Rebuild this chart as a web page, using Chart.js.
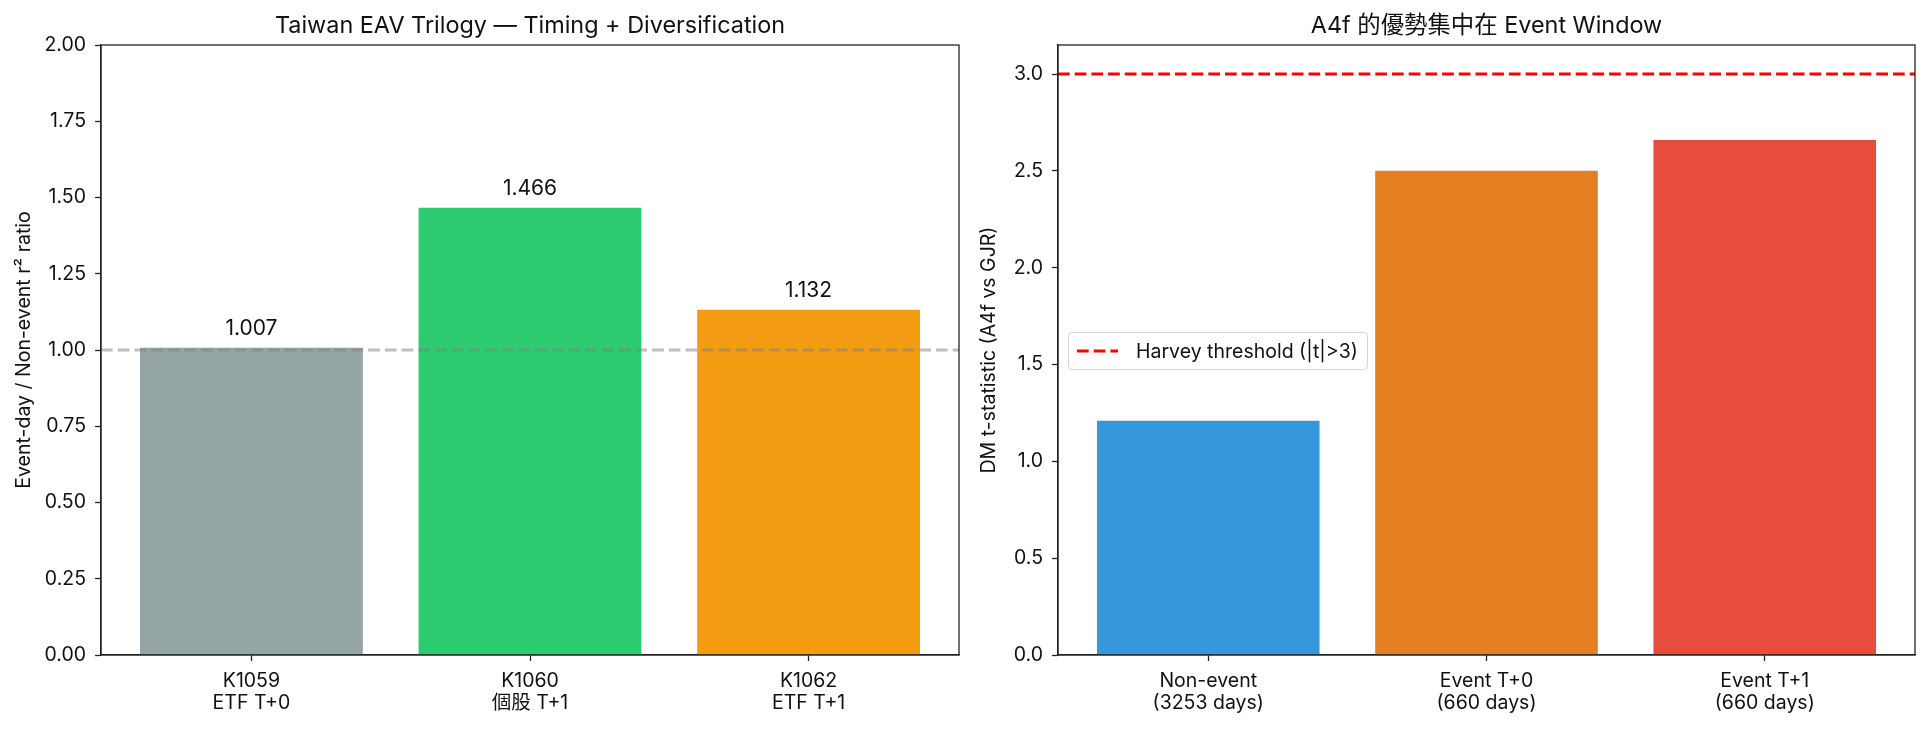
<!DOCTYPE html>
<html><head><meta charset="utf-8">
<script src="https://cdn.jsdelivr.net/npm/chart.js@4.4.1/dist/chart.umd.min.js"></script>
<style>
body{margin:0;background:#fff;width:1931px;height:730px;overflow:hidden;position:relative;font-family:Inter,"Noto Sans CJK TC",sans-serif;}
#c1{position:absolute;left:0;top:0;}
#c2{position:absolute;left:965px;top:0;}
#legend{position:absolute;left:1068px;top:332px;height:38px;border:1.3px solid #d6d6d6;border-radius:4px;background:rgba(255,255,255,0.85);display:flex;align-items:center;padding:0 9px 0 8px;font-size:19.5px;color:#111;box-sizing:border-box;white-space:nowrap}
</style></head><body>
<canvas id="c1" width="965" height="730"></canvas>
<canvas id="c2" width="966" height="730"></canvas>
<div id="legend"><svg width="41" height="6" style="margin-right:18px"><line x1="0" y1="3" x2="41" y2="3" stroke="#ff0000" stroke-width="3" stroke-dasharray="11.7 5"/></svg><span id="legendText"></span></div>
<script>
// ---------- data ----------
const leftTitle = 'Taiwan EAV Trilogy — Timing + Diversification';
const leftYLabel = 'Event-day / Non-event r² ratio';
const leftCategories = [['K1059','ETF T+0'],['K1060','個股 T+1'],['K1062','ETF T+1']];
const leftValues = [1.007, 1.466, 1.132];
const leftColors = ['#95a5a6','#2ecc71','#f39c12'];
const leftBaseline = 1.0;
const leftYMin = 0, leftYMax = 2.0, leftYStep = 0.25;

const rightTitle = 'A4f 的優勢集中在 Event Window';
const rightYLabel = 'DM t-statistic (A4f vs GJR)';
const rightCategories = [['Non-event','(3253 days)'],['Event T+0','(660 days)'],['Event T+1','(660 days)']];
const rightValues = [1.21, 2.50, 2.66];
const rightColors = ['#3498db','#e67e22','#e74c3c'];
const harveyThreshold = 3.0;
const harveyLabel = 'Harvey threshold (|t|>3)';
const rightYMin = 0, rightYMax = 3.15, rightYStep = 0.5;

const xMin = -0.54, xMax = 2.54;
// --------------------------

document.getElementById('legendText').textContent = harveyLabel;

const FONT = 'Inter,"Noto Sans CJK TC",sans-serif';
const TXT = '#111';
const AX = '#222';
const FS = 19.5;

const framePlugin = {
  id: 'frame',
  afterDatasetsDraw(chart) {
    const {ctx, chartArea: a} = chart;
    ctx.save();
    ctx.strokeStyle = AX; ctx.lineWidth = 1.3;
    ctx.strokeRect(a.left, a.top, a.right - a.left, a.bottom - a.top);
    ctx.restore();
  }
};

const titlePlugin = {
  id: 'areaTitle',
  afterDraw(chart, args, opts) {
    const {ctx, chartArea: a} = chart;
    ctx.save();
    ctx.font = '23.4px ' + FONT;
    ctx.fillStyle = TXT;
    ctx.textAlign = 'center';
    ctx.textBaseline = 'alphabetic';
    ctx.fillText(opts.text, (a.left + a.right) / 2, a.top - 12);
    ctx.restore();
  }
};

const valueLabelPlugin = {
  id: 'valueLabels',
  afterDatasetsDraw(chart, args, opts) {
    if (!opts.show) return;
    const {ctx} = chart;
    chart.data.datasets.forEach((ds, di) => {
      if (ds.type === 'line') return;
      const meta = chart.getDatasetMeta(di);
      meta.data.forEach((el, i) => {
        ctx.save();
        ctx.font = '21px ' + FONT;
        ctx.fillStyle = TXT;
        ctx.textAlign = 'center';
        ctx.textBaseline = 'alphabetic';
        ctx.fillText(ds.data[i].y.toFixed(3), el.x, el.y - 13);
        ctx.restore();
      });
    });
  }
};

function makeChart(id, opts) {
  const {title, yLabel, cats, vals, colors, refY, refColor, refWidth, yMin, yMax, yStep, decimals, padRight, yWidth, yTitlePad, labels} = opts;
  return new Chart(document.getElementById(id), {
    type: 'bar',
    data: {
      datasets: [
        {
          type: 'line',
          order: 0,
          data: [{x: xMin, y: refY}, {x: xMax, y: refY}],
          borderColor: refColor,
          borderWidth: refWidth,
          borderDash: [11.7, 5],
          pointRadius: 0,
          fill: false
        },
        {
          type: 'bar',
          order: 1,
          data: vals.map((v, i) => ({x: i, y: v})),
          backgroundColor: colors,
          borderWidth: 0,
          barPercentage: 1.0,
          categoryPercentage: 0.8
        }
      ]
    },
    options: {
      responsive: false,
      animation: false,
      layout: {padding: {left: 0, right: padRight, top: 45, bottom: 0}},
      plugins: {
        legend: {display: false},
        tooltip: {enabled: false},
        title: {display: false},
        areaTitle: {text: title},
        valueLabels: {show: labels}
      },
      scales: {
        x: {
          type: 'linear', min: xMin, max: xMax, offset: false,
          afterBuildTicks(s) { s.ticks = cats.map((c, i) => ({value: i})); },
          afterFit(s) { s.height = 75; },
          ticks: {
            callback: (v) => cats[v],
            color: TXT, font: {family: FONT, size: FS, lineHeight: 1.15},
            padding: 9, maxRotation: 0, autoSkip: false
          },
          grid: {offset: false, drawOnChartArea: false, drawTicks: true, tickLength: 6, tickWidth: 1.3, tickColor: AX},
          border: {display: true, color: AX, width: 1.3}
        },
        y: {
          type: 'linear', min: yMin, max: yMax,
          afterBuildTicks(s) {
            s.ticks = s.ticks.filter(t => Math.abs(t.value / yStep - Math.round(t.value / yStep)) < 1e-6);
          },
          afterFit(s) { s.width = yWidth; },
          ticks: {
            stepSize: yStep,
            callback: (v) => Number(v).toFixed(decimals),
            color: TXT, font: {family: FONT, size: FS}, padding: 9
          },
          title: {
            display: true, text: yLabel, color: TXT,
            font: {family: FONT, size: FS, lineHeight: 1.2},
            padding: {top: yTitlePad, bottom: 0}
          },
          grid: {drawOnChartArea: false, drawTicks: true, tickLength: 6, tickWidth: 1.3, tickColor: AX},
          border: {display: true, color: AX, width: 1.3}
        }
      }
    },
    plugins: [framePlugin, valueLabelPlugin, titlePlugin]
  });
}

makeChart('c1', {
  title: leftTitle, yLabel: leftYLabel, cats: leftCategories, vals: leftValues, colors: leftColors,
  refY: leftBaseline, refColor: 'rgba(128,128,128,0.5)', refWidth: 3,
  yMin: leftYMin, yMax: leftYMax, yStep: leftYStep, decimals: 2,
  padRight: 6, yWidth: 101, yTitlePad: 12, labels: true
});

makeChart('c2', {
  title: rightTitle, yLabel: rightYLabel, cats: rightCategories, vals: rightValues, colors: rightColors,
  refY: harveyThreshold, refColor: '#ff0000', refWidth: 3,
  yMin: rightYMin, yMax: rightYMax, yStep: rightYStep, decimals: 1,
  padRight: 16, yWidth: 93, yTitlePad: 12, labels: false
});
</script>
</body></html>
